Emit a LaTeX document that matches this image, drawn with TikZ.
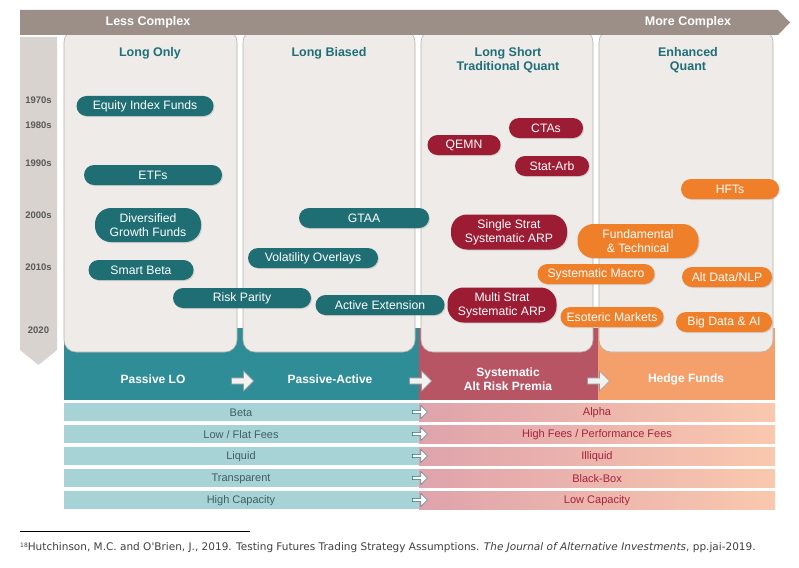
\documentclass[tikz,border=0pt]{standalone}
\usepackage{fontspec}
\setmainfont{Liberation Sans}
\newfontfamily\fnfont{DejaVu Sans}
\usetikzlibrary{shapes.arrows,shadows}
\definecolor{bar}{HTML}{9C8F87}
\definecolor{timeg}{HTML}{D8D3CF}
\definecolor{panel}{HTML}{EEEBE8}
\definecolor{tealD}{HTML}{1E6E73}
\definecolor{tealB}{HTML}{2E8D97}
\definecolor{tealT}{HTML}{1F6E78}
\definecolor{crim}{HTML}{9C1C34}
\definecolor{crimB}{HTML}{B85565}
\definecolor{oran}{HTML}{F07F2A}
\definecolor{oranB}{HTML}{F5A06A}
\definecolor{rowL}{HTML}{A8D3D6}
\definecolor{rowP}{HTML}{DFA3AC}
\definecolor{rowO}{HTML}{FAC8AE}
\definecolor{txtR}{HTML}{A3243B}
\definecolor{txtL}{HTML}{3E5F63}
\tikzset{
 pill/.style={rounded corners=10pt,minimum height=20pt,inner sep=1pt,text=white,align=center,font=\fontsize{12.2}{14}\selectfont,drop shadow={opacity=0.25,shadow xshift=1pt,shadow yshift=-1pt}},
 tpill/.style={pill,fill=tealD},
 cpill/.style={pill,fill=crim},
 opill/.style={pill,fill=oran},
 pan/.style={draw=bar!70,line width=0.6pt,fill=panel,rounded corners=12pt},
 ttl/.style={text=tealT,font=\bfseries\fontsize{12.5}{14.5}\selectfont,align=center},
 yr/.style={text=black!65,font=\bfseries\fontsize{9.5}{10}\selectfont},
 band/.style={text=white,font=\bfseries\fontsize{12}{13.5}\selectfont,align=center},
 rowtxtL/.style={text=txtL,font=\fontsize{11}{12}\selectfont},
 rowtxtR/.style={text=txtR,font=\fontsize{11}{12}\selectfont},
 warrow/.style={single arrow,fill=white!90!gray,draw=gray!80,line width=0.6pt,minimum width=20pt,single arrow head extend=3pt,minimum height=22pt,inner sep=1pt},
 sarrow/.style={single arrow,fill=white,draw=tealD,minimum width=13pt,single arrow head extend=2pt,minimum height=15pt,inner sep=0.5pt}
}
\begin{document}
\begin{tikzpicture}[x=1pt,y=-1pt]
\useasboundingbox (0,0) rectangle (799,567);
\fill[white] (0,0) rectangle (799,567);
% timeline
\fill[timeg] (20,37) -- (57,37) -- (57,350) -- (38.5,365) -- (20,350) -- cycle;
\node[yr] (y1) at (38.5,100) {1970s};
\node[yr] (y2) at (38.5,125) {1980s};
\node[yr] (y3) at (38.5,163) {1990s};
\node[yr] (y4) at (38.5,215) {2000s};
\node[yr] (y5) at (38.5,267) {2010s};
\node[yr] (y6) at (38.5,330) {2020};
% bands
\fill[tealB] (64,328) rectangle (419,400);
\fill[crimB] (419,328) rectangle (598,400);
\fill[oranB] (598,328) rectangle (775,400);
% panels
\draw[pan] (64,30) rectangle (237,352);
\draw[pan] (243,30) rectangle (415,352);
\draw[pan] (421,30) rectangle (593,352);
\draw[pan] (599,30) rectangle (773,352);
% top bar
\fill[bar] (20,10) -- (778,10) -- (790,22.5) -- (778,35) -- (20,35) -- cycle;
\node[text=white,font=\bfseries\fontsize{12.5}{14}\selectfont] (less) at (148,22.5) {Less Complex};
\node[text=white,font=\bfseries\fontsize{12.5}{14}\selectfont] (more) at (688,22.5) {More Complex};
% titles
\node[ttl] (t1) at (150,53) {Long Only};
\node[ttl] (t2) at (329,53) {Long Biased};
\node[ttl] (t3) at (508,60) {Long Short\\Traditional Quant};
\node[ttl] (t4) at (688,60) {Enhanced\\Quant};
% band labels
\node[band] (b1) at (153,379) {Passive LO};
\node[band] (b2) at (330,379) {Passive-Active};
\node[band] (b3) at (508,379) {Systematic\\Alt Risk Premia};
\node[band] (b4) at (686,379) {Hedge Funds};
\node[warrow] (a1) at (241,381) {};
\node[warrow] (a2) at (419,381) {};
\node[warrow] (a3) at (597,381) {};
% rows
\foreach \y/\l/\r [count=\i] in {403/{Beta}/{Alpha},425/{Low / Flat Fees}/{High Fees / Performance Fees},447/{Liquid}/{Illiquid},469/{Transparent}/{Black-Box},491/{High Capacity}/{Low Capacity}}{
 \fill[rowL] (64,\y) rectangle (419,\y+18);
 \shade[left color=rowP,right color=rowO] (419,\y) rectangle (775,\y+18);
 \node[rowtxtL] (l\i) at (241,\y+9.5) {\l};
 \node[rowtxtR] (r\i) at (597,\y+9.5) {\r};
 \node[sarrow] (s\i) at (419,\y+9) {};
}
% teal pills
\node[tpill,minimum width=137pt] (p1) at (145,106) {Equity Index Funds};
\node[tpill,minimum width=138pt] (p2) at (153,175) {ETFs};
\node[tpill,minimum width=106pt,minimum height=34pt,rounded corners=16pt] (p3) at (148,225) {Diversified\\Growth Funds};
\node[tpill,minimum width=105pt] (p4) at (141,270) {Smart Beta};
\node[tpill,minimum width=138pt] (p5) at (242,298) {Risk Parity};
\node[tpill,minimum width=130pt] (p6) at (364,218) {GTAA};
\node[tpill,minimum width=130pt] (p7) at (313,258) {Volatility Overlays};
\node[tpill,minimum width=129pt] (p8) at (380,305) {Active Extension};
% crimson pills
\node[cpill,minimum width=73pt] (c1) at (464,145) {QEMN};
\node[cpill,minimum width=74pt] (c2) at (546,128) {CTAs};
\node[cpill,minimum width=74pt] (c3) at (552,166) {Stat-Arb};
\node[cpill,minimum width=116pt,minimum height=35pt,rounded corners=16pt] (c4) at (509,232) {Single Strat\\Systematic ARP};
\node[cpill,minimum width=109pt,minimum height=35pt,rounded corners=16pt] (c5) at (502,305) {Multi Strat\\Systematic ARP};
% orange pills
\node[opill,minimum width=98pt] (o1) at (730,189) {HFTs};
\node[opill,minimum width=121pt,minimum height=34pt,rounded corners=16pt] (o2) at (638,241) {Fundamental\\\& Technical};
\node[opill,minimum width=117pt] (o3) at (596,274) {Systematic Macro};
\node[opill,minimum width=90pt] (o4) at (727,277) {Alt Data/NLP};
\node[opill,minimum width=103pt] (o5) at (612,317) {Esoteric Markets};
\node[opill,minimum width=96pt] (o6) at (724,322) {Big Data \& AI};
% footnote
\draw[black,line width=0.6pt] (20,531) -- (250,531);
\node[anchor=west,text=black!75,font=\fnfont\fontsize{10.5}{12}\selectfont,inner sep=0] (fn) at (20,548) {\raisebox{3pt}{\fontsize{6}{7}\selectfont 18}Hutchinson, M.C. and O'Brien, J., 2019. Testing Futures Trading Strategy Assumptions. \textit{The Journal of Alternative Investments}, pp.jai-2019.};
\end{tikzpicture}
\end{document}
